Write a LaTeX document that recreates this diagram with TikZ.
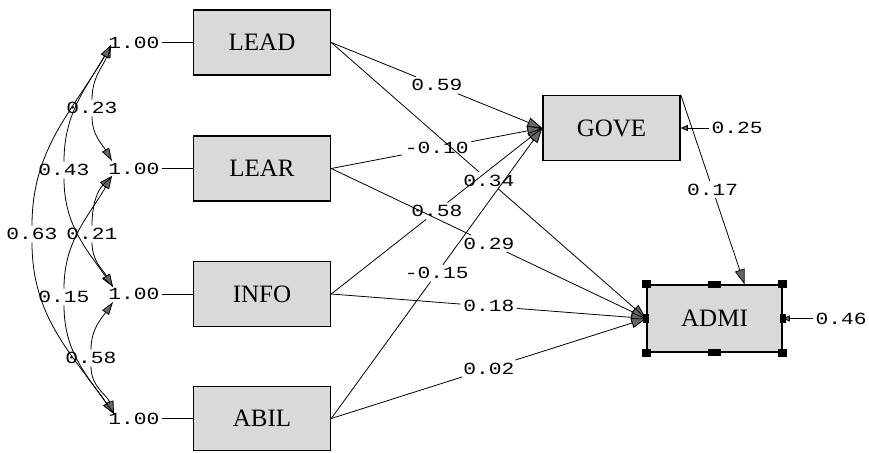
\documentclass[tikz,border=0pt]{standalone}
\usepackage{fontspec}
\setmainfont{Liberation Serif}
\newfontfamily\valfont[FakeStretch=1.25]{Liberation Mono}
\usetikzlibrary{arrows.meta,calc}

\begin{document}
\begin{tikzpicture}[x=1pt,y=1pt,
  var/.style={draw=black, line width=1.5pt, fill=black!15,
    minimum width=137pt, minimum height=65pt, inner sep=0pt,
    font=\fontsize{25}{25}\selectfont},
  val/.style={font=\valfont\fontsize{17}{17}\selectfont, inner sep=2.5pt},
  link/.style={line width=0.8pt, black},
  headtip/.tip={Triangle[length=15pt,width=10pt,fill=black!60]},
  covtip/.tip={Triangle[length=13pt,width=8pt,fill=black!60]},
  errtip/.tip={Triangle[length=7pt,width=6pt,fill=black!60]},
  handle/.style={fill=black}]
\useasboundingbox (0,0) rectangle (869,-452);

% observed variables
\node[var] (LEAD) at (262,-42.5) {LEAD};
\node[var] (LEAR) at (262,-168.5) {LEAR};
\node[var] (INFO) at (262,-294) {INFO};
\node[var, minimum height=64pt] (ABIL) at (262,-418.5) {ABIL};
\node[var] (GOVE) at (611.5,-128) {GOVE};
\node[var, minimum width=135pt, minimum height=67pt] (ADMI) at (714.5,-318.5) {ADMI};

% variances of the exogenous variables
\node[val] (v1) at (134,-42.5) {1.00};
\node[val] (v2) at (134,-168.5) {1.00};
\node[val] (v3) at (134,-294) {1.00};
\node[val] (v4) at (134,-418.5) {1.00};
\foreach \v/\b in {v1/LEAD, v2/LEAR, v3/INFO, v4/ABIL}
  \draw[link] (\v) -- (\b);

% tips of the covariance curves
\coordinate (p1)  at (111,-45);
\coordinate (p2a) at (112,-161);
\coordinate (p2b) at (112,-176);
\coordinate (p3a) at (113,-287);
\coordinate (p3b) at (113,-302);
\coordinate (p4)  at (114,-414);

% covariance labels
\node[val] (c12) at (92,-108) {0.23};
\node[val] (c13) at (64,-170) {0.43};
\node[val] (c14) at (32,-234) {0.63};
\node[val] (c23) at (92,-234) {0.21};
\node[val] (c24) at (64,-297) {0.15};
\node[val] (c34) at (91,-358) {0.58};

% covariance curves, split at their labels
\draw[link,covtip-] (p1) to[out=250,in=90] (c12);
\draw[link,-covtip] (c12) to[out=-90,in=120] (p2a);
\draw[link,covtip-] (p1) to[out=240,in=90] (c13);
\draw[link,-covtip] (c13) to[out=-90,in=125] (p3a);
\draw[link,covtip-] (p1) to[out=240,in=90] (c14);
\draw[link,-covtip] (c14) to[out=-90,in=125] (p4);
\draw[link,covtip-] (p2b) to[out=225,in=90] (c23);
\draw[link,-covtip] (c23) to[out=-90,in=120] (p3a);
\draw[link,covtip-] (p2b) to[out=240,in=90] (c24);
\draw[link,-covtip] (c24) to[out=-90,in=125] (p4);
\draw[link,covtip-] (p3b) to[out=235,in=90] (c34);
\draw[link,-covtip] (c34) to[out=-90,in=110] (p4);

% structural paths
\coordinate (admitop) at ($(ADMI.north west)!0.72!(ADMI.north east)$);
\foreach \s/\t/\n/\txt in {
    LEAD/GOVE/g1/0.59, LEAR/GOVE/g2/-0.10, INFO/GOVE/g3/0.58, ABIL/GOVE/g4/-0.15,
    LEAD/ADMI/a1/0.34, LEAR/ADMI/a2/0.29, INFO/ADMI/a3/0.18, ABIL/ADMI/a4/0.02} {
  \path (\s.east) -- node[val, pos=0.5] (\n) {\txt} (\t.west);
  \draw[link] (\s.east) -- (\n);
  \draw[link,-headtip] (\n) -- (\t.west);
}
\path (GOVE.north east) -- node[val, pos=0.5] (ga) {0.17} (admitop);
\draw[link] (GOVE.north east) -- (ga);
\draw[link,-headtip] (ga) -- (admitop);

% error variances
\node[val, anchor=west] (e1) at (709,-128) {0.25};
\draw[link,-errtip] (e1) -- (GOVE.east);
\node[val, anchor=west] (e2) at (813,-318.5) {0.46};
\draw[link,-errtip] (e2) -- (ADMI.east);

% selection handles around ADMI
\foreach \a in {north west, north east, south west, south east}
  \fill[handle] ($(ADMI.\a)+(-4.5,-4)$) rectangle ++(9,8);
\foreach \a in {north, south}
  \fill[handle] ($(ADMI.\a)+(-6.5,-3.5)$) rectangle ++(13,7);
\foreach \a in {west, east}
  \fill[handle] ($(ADMI.\a)+(-3,-4.5)$) rectangle ++(6,9);
\end{tikzpicture}
\end{document}
